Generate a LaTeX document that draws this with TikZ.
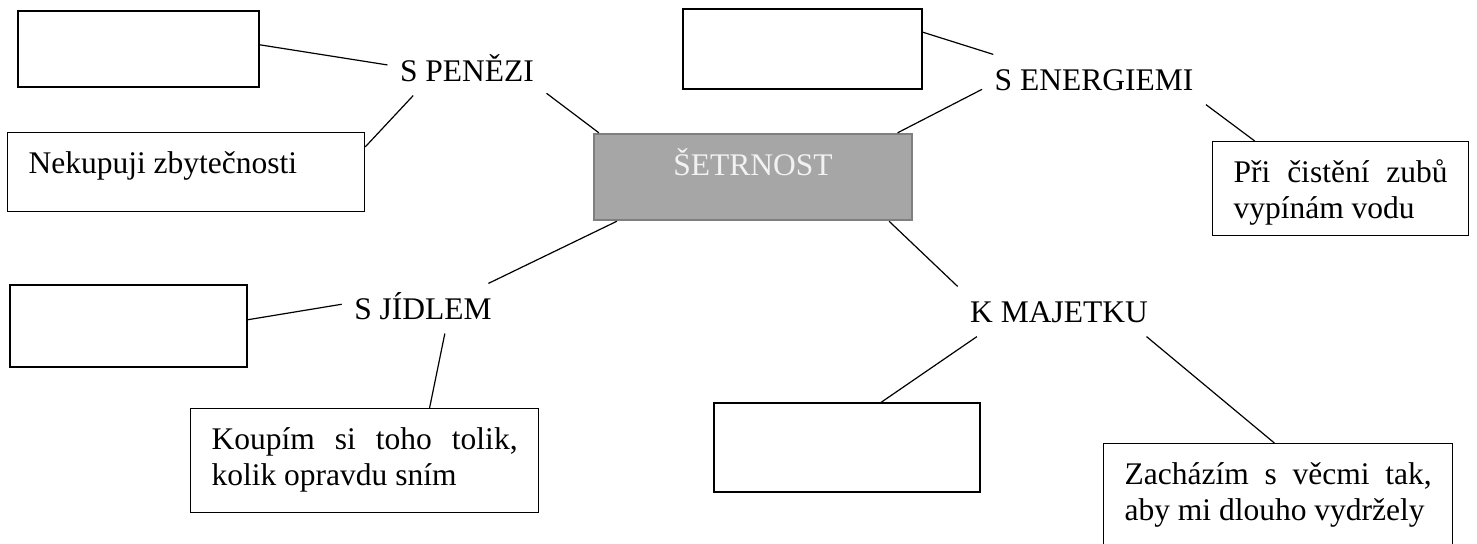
\documentclass[tikz,border=0pt]{standalone}
\usepackage{fontspec}
\setmainfont{Liberation Serif}
\usepackage{xcolor}
\definecolor{mainfill}{HTML}{A6A6A6}
\definecolor{mainedge}{HTML}{7F7F7F}
\definecolor{maintext}{HTML}{F2F2F2}
\tolerance=9999
\hbadness=10000

\begin{document}
\begin{tikzpicture}[x=0.5pt, y=-0.5pt, semithick, font=\fontsize{15.75pt}{18pt}\selectfont,
mainnode/.style={rectangle, draw=mainedge, fill=mainfill, line width=1.2pt, text=maintext, minimum width=159pt, inner ysep=10pt, text height=10.5pt, text depth=12.5pt},
labelnode/.style={anchor=base, inner xsep=6pt, inner ysep=7pt, text height=10.5pt, text depth=0pt},
emptynode/.style={rectangle, draw=black, fill=white, inner sep=0pt},
textnode/.style={rectangle, draw=black, fill=white, anchor=north west, inner xsep=10.5pt, inner ysep=10pt, text height=10.5pt, align=justify}]
\useasboundingbox (0,0) rectangle (1477,543);
\clip (0,0) rectangle (1477,543);

\node[mainnode] (setrnost) at (753,177) {ŠETRNOST};
\node[labelnode] (penezi) at (467,81) {S PENĚZI};
\node[labelnode] (energie) at (1094,90) {S ENERGIEMI};
\node[labelnode] (jidlo) at (423,319) {S JÍDLEM};
\node[labelnode] (majetek) at (1059,322) {K MAJETKU};

\node[emptynode, minimum width=120.5pt, minimum height=38pt] (a) at (138.5,49) {};
\node[emptynode, minimum width=119.5pt, minimum height=40pt] (b) at (802.5,49) {};
\node[emptynode, minimum width=118.5pt, minimum height=41pt] (c) at (128.5,326) {};
\node[emptynode, minimum width=133pt, minimum height=44.5pt] (d) at (847,447.5) {};

\node[textnode, text width=157.5pt, text depth=9pt] (n) at (7,132) {Nekupuji zbytečnosti};
\node[textnode, text width=107pt, text depth=16.5pt] (p) at (1212,141) {Při čistění zubů\linebreak vypínám vodu};
\node[textnode, text width=153pt, text depth=21.5pt] (k) at (190,408) {Koupím si toho tolik,\linebreak kolik opravdu sním};
\node[textnode, text width=153.5pt, text depth=22pt] (z) at (1103,443) {Zacházím s věcmi tak,\linebreak aby mi dlouho vydržely};

\draw (a.2) -- (penezi.176);
\draw (penezi.205) -- (n.8);
\draw (penezi.344) -- (setrnost.164);
\draw (b.8) -- (energie.166);
\draw (energie.185) -- (setrnost.17);
\draw (energie.south east) -- (p.151);
\draw (setrnost.198) -- (jidlo.21);
\draw (c.3) -- (jidlo.177);
\draw (jidlo.311) -- (k.39);
\draw (setrnost.342) -- (majetek.north west);
\draw (majetek.197) -- (d.53);
\draw (majetek.344) -- (z.94);
\end{tikzpicture}
\end{document}
